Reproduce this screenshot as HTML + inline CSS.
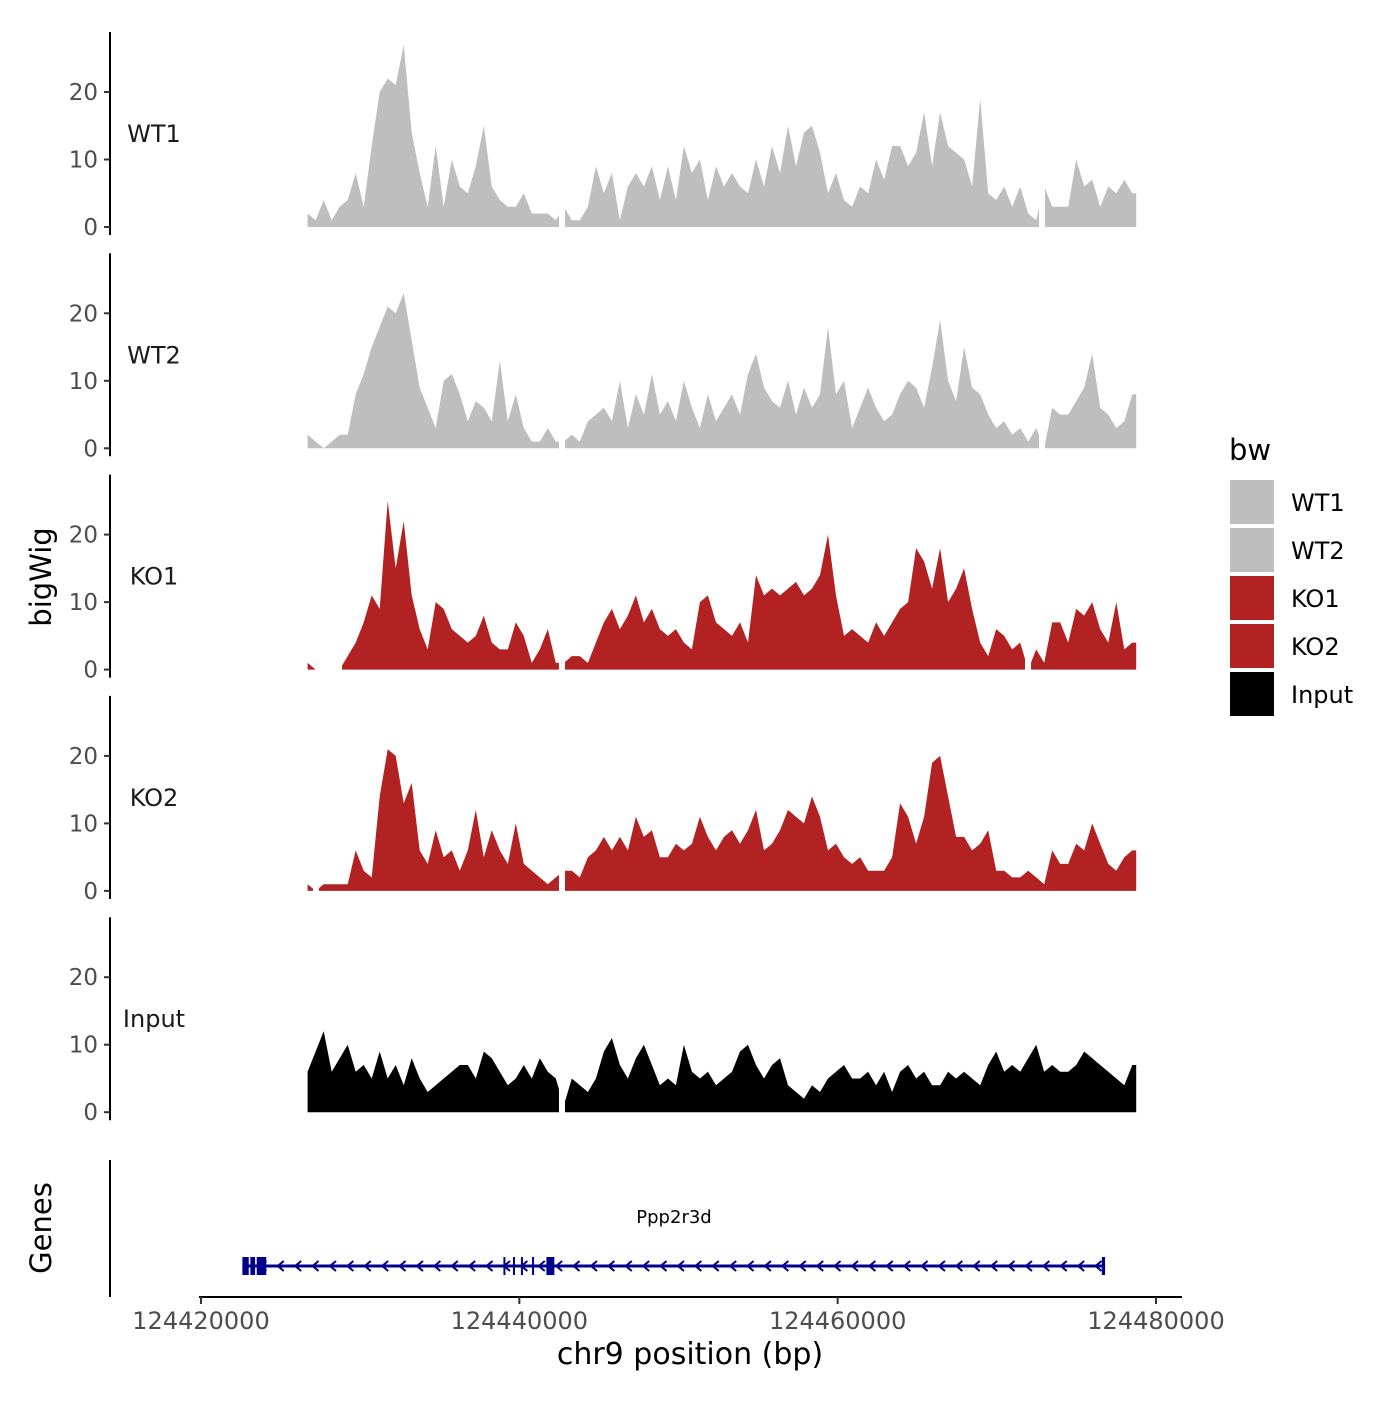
<!DOCTYPE html>
<html><head><meta charset="utf-8">
<style>
body{margin:0;background:#fff;}
svg text{font-family:"DejaVu Sans","Liberation Sans",sans-serif;}
</style></head>
<body>
<svg id="chart" width="1400" height="1400" viewBox="0 0 1400 1400" xmlns="http://www.w3.org/2000/svg">
<g id="tracks"></g>
<g id="genes"></g>
<g id="xaxis"></g>
<text x="51" y="577" font-size="29" text-anchor="middle" transform="rotate(-90 51 577)">bigWig</text>
<text x="51" y="1228" font-size="29" text-anchor="middle" transform="rotate(-90 51 1228)">Genes</text>
<text x="690" y="1364" font-size="30" text-anchor="middle">chr9 position (bp)</text>
<g id="legend"></g>
</svg>
<script>
const trackNames = ["WT1","WT2","KO1","KO2","Input"];
const trackColors = ["#bebebe","#bebebe","#b22222","#b22222","#000000"];
const dataStart = 124426700;
const binSize = 503;
const wt1 = [2,1,4,1,3,4,8,3,12,20,22,21,27,14,8,3,12,3,10,6,5,9,15,6,4,3,3,5,2,2,2,1,3,1,1,3,9,5,8,1,6,8,6,9,4,9,4,12,8,10,4,9,6,8,6,5,10,6,12,8,15,9,14,15,11,5,8,4,3,6,5,10,7,12,12,9,11,17,9,17,12,11,10,6,19,5,4,6,3,6,2,1,6,3,3,3,10,6,7,3,6,5,7,5];
const wt2 = [2,1,0,1,2,2,8,11,15,18,21,20,23,16,9,6,3,10,11,8,4,7,6,4,13,4,8,3,1,1,3,1,1,2,1,4,5,6,4,10,3,8,5,11,5,7,4,10,6,3,8,4,6,8,5,11,14,9,7,6,10,5,9,6,8,18,8,10,3,6,9,6,4,5,8,10,9,6,12,19,10,7,15,9,8,5,3,4,2,3,1,3,0,6,5,5,7,9,14,6,5,3,4,8];
const ko1 = [1,0,0,0,0,2,4,7,11,9,25,15,22,11,6,3,10,9,6,5,4,5,8,4,3,3,7,5,1,3,6,1,1,2,2,1,4,7,9,6,8,11,7,9,6,5,6,4,3,10,11,7,6,5,7,4,14,11,12,11,12,13,11,12,14,20,11,5,6,5,4,7,5,7,9,10,18,16,12,18,10,12,15,9,4,2,6,5,3,4,0,3,1,7,7,4,9,8,10,6,4,10,3,4];
const ko2 = [1,0,1,1,1,1,6,3,2,14,21,20,13,16,6,4,9,5,6,3,6,12,5,9,6,4,10,4,3,2,1,2,3,3,2,5,6,8,6,8,6,11,8,9,5,5,7,6,7,11,8,6,8,9,7,9,12,6,7,9,12,11,10,14,11,6,7,5,4,5,3,3,3,5,13,11,7,11,19,20,14,8,8,6,7,9,3,3,2,2,3,2,1,6,4,4,7,6,10,7,4,3,5,6];
const input = [6,9,12,6,8,10,6,7,5,9,5,7,4,8,5,3,4,5,6,7,7,5,9,8,6,4,5,7,5,8,6,5,1,5,4,3,5,9,11,7,5,8,10,7,4,5,4,10,6,5,6,4,5,6,9,10,7,5,7,8,4,3,2,4,3,5,6,7,5,5,6,4,6,3,6,7,5,6,4,4,6,5,6,5,4,7,9,6,7,6,8,10,6,7,6,6,7,9,8,7,6,5,4,7];
const trackValues = [wt1,wt2,ko1,ko2,input];
const trackGaps = [
  [[124442490,124442870],[124472650,124473025]],
  [[124442490,124442870],[124472650,124473025]],
  [[124427225,124428860],[124442490,124442870],[124471770,124472150]],
  [[124427040,124427410],[124442490,124442870]],
  [[124442490,124442870]]
];
const yTicks = [0,10,20];
const xTicks = [124420000,124440000,124460000,124480000];
const xTickLabels = ["124420000","124440000","124460000","124480000"];
const geneName = "Ppp2r3d";
const geneStart = 124422600, geneEnd = 124476800;
const exons = [[124422600,124423000],[124423100,124423400],[124423500,124424100],[124439000,124439100],[124439600,124439700],[124440100,124440200],[124440800,124440900],[124441700,124442200],[124476600,124476800]];

const NS="http://www.w3.org/2000/svg";
function mk(tag,attrs,parent){const e=document.createElementNS(NS,tag);for(const k in attrs)e.setAttribute(k,attrs[k]);parent.appendChild(e);return e;}
const X = bp => 201 + (bp-124420000)*(1156-201)/60000;
const panelTop0 = 32, panelStep = 221.3, zeroOff = 195, pxPerUnit = 6.75;
const tracksG = document.getElementById('tracks');
trackNames.forEach((name,ti)=>{
  const top = panelTop0 + ti*panelStep;
  const y0 = top + zeroOff;
  const Y = v => y0 - v*pxPerUnit;
  const g = mk('g',{},tracksG);
  
  
  const vals = trackValues[ti];
  let d = 'M'+X(dataStart).toFixed(1)+' '+y0;
  vals.forEach((v,i)=>{ d += ' L'+X(dataStart+i*binSize).toFixed(1)+' '+Y(v).toFixed(1); });
  const endBp = dataStart+(vals.length-1)*binSize+250;
  d += ' L'+X(endBp).toFixed(1)+' '+Y(vals[vals.length-1]).toFixed(1)+' L'+X(endBp).toFixed(1)+' '+y0+' Z';
  const a = mk('path',{d:d,fill:trackColors[ti]},g);
  
  
  trackGaps[ti].forEach(gp=>{
    mk('rect',{x:X(gp[0]),y:top,width:X(gp[1])-X(gp[0]),height:zeroOff+1,fill:'#fff'},g);
  });
  const ax = mk('line',{x1:110,x2:110,y1:top,y2:top+203,stroke:'#000','stroke-width':2},g);
  
  
  yTicks.forEach(t=>{
    mk('line',{x1:104,x2:110,y1:Y(t),y2:Y(t),stroke:'#333','stroke-width':2},g);
    const tl = mk('text',{x:98,y:Y(t)+8,'font-size':23,'text-anchor':'end',fill:'#4d4d4d'},g);
    tl.textContent = t;
    
    
  });
  const lb = mk('text',{x:154,y:top+110,'font-size':24,'text-anchor':'middle',fill:'#1a1a1a'},g);
  lb.textContent = name;
  
  
});
// genes
const gg = document.getElementById('genes');
mk('line',{x1:110,x2:110,y1:1160,y2:1297,stroke:'#000','stroke-width':2},gg);
const gy = 1266;
mk('line',{x1:X(geneStart),x2:X(geneEnd),y1:gy,y2:gy,stroke:'#00008b','stroke-width':3},gg);
for(let x=X(geneStart)+20;x<X(geneEnd)-5;x+=17.4){
  mk('path',{d:`M${x+4} ${gy-5} L${x-2} ${gy} L${x+4} ${gy+5}`,fill:'none',stroke:'#00008b','stroke-width':2},gg);
}
exons.forEach(e=>{
  const r = mk('rect',{x:X(e[0]),y:gy-9,width:Math.max(2,X(e[1])-X(e[0])),height:18,fill:'#00008b'},gg);
  
  
});
const gl = mk('text',{x:674,y:1223,'font-size':18,'text-anchor':'middle'},gg);
gl.textContent = geneName;


// x axis
const xg = document.getElementById('xaxis');
mk('line',{x1:199,x2:1182,y1:1297,y2:1297,stroke:'#000','stroke-width':2},xg);
xTicks.forEach((t,i)=>{
  mk('line',{x1:X(t),x2:X(t),y1:1297,y2:1304,stroke:'#333','stroke-width':2},xg);
  const tl = mk('text',{x:X(t),y:1329,'font-size':24,'text-anchor':'middle',fill:'#4d4d4d'},xg);
  tl.textContent = xTickLabels[i];
  
  
});
// legend
const lg = document.getElementById('legend');
const lt = mk('text',{x:1229,y:460,'font-size':29},lg);
lt.textContent='bw';
trackNames.forEach((n,i)=>{
  const y = 480 + i*48;
  const k = mk('rect',{x:1230,y:y,width:44,height:44,fill:trackColors[i]},lg);
  
  
  const t = mk('text',{x:1291,y:y+31,'font-size':24},lg);
  t.textContent = n;
  
  
});
</script>
</body></html>
